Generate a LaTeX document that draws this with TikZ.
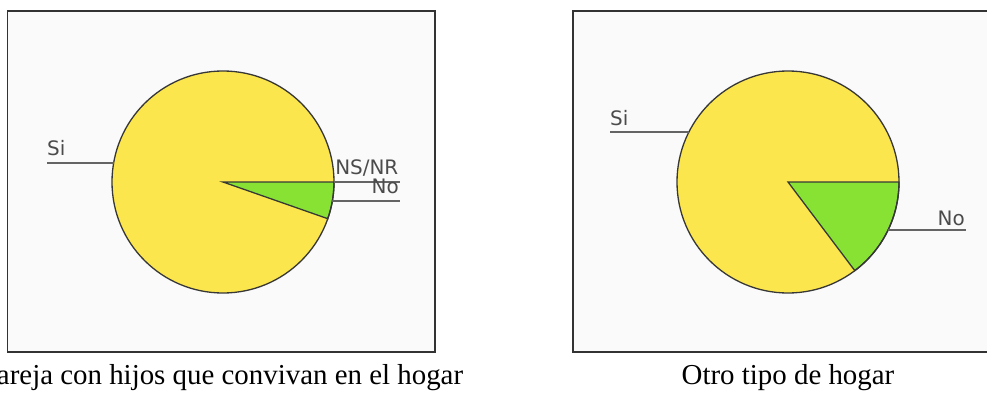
\documentclass[tikz,border=0pt]{standalone}
\usepackage{fontspec}
\setmainfont{Liberation Serif}
\newfontfamily\labelfont{DejaVu Sans}
\definecolor{pieyellow}{RGB}{252,230,77}
\definecolor{piegreen}{RGB}{136,226,52}
\definecolor{framebg}{RGB}{250,250,250}
\definecolor{lblgray}{RGB}{75,75,75}
\definecolor{leadgray}{RGB}{100,100,100}
\definecolor{pieoutline}{RGB}{55,55,55}
\begin{document}
\begin{tikzpicture}[x=1bp,y=1bp,
  frame/.style={draw=black!80, line width=1.5bp, fill=framebg},
  slice/.style={draw=pieoutline, line width=1.3bp},
  leader/.style={draw=leadgray, line width=1.5bp},
  lbl/.style={font=\labelfont\fontsize{20}{23}\selectfont, text=lblgray, inner sep=0pt},
  captiontext/.style={font=\fontsize{29}{32}\selectfont, inner sep=0pt}]
\useasboundingbox (0,0) rectangle (987,392);
% frames
\draw[frame] (7.5,40) rectangle (435,381);
\draw[frame] (573,40) rectangle (1005,381);
% ---------- left pie ----------
\coordinate (cL) at (223,210);
\fill[pieyellow] (cL) circle[radius=111];
\filldraw[slice, fill=piegreen] (cL) -- ++(0:111) arc[start angle=0, end angle=-19.3, radius=111] -- cycle;
\draw[slice] (cL) circle[radius=111];
\path (cL) ++(170.1:111) coordinate (siLedge);
\path (cL) ++(0:111) coordinate (nsLedge);
\path (cL) ++(-9.86:111) coordinate (noLedge);
\coordinate (siLend) at (47,229);
\coordinate (nsLend) at (400,210);
\coordinate (noLend) at (400,191);
\draw[leader] (siLend |- siLedge) -- (siLedge);
\draw[leader] (nsLedge) -- (nsLend |- nsLedge);
\draw[leader] (noLedge) -- (noLend |- noLedge);
\node[lbl, anchor=base west] (siL) at (47,237) {Si};
\node[lbl, anchor=base east] (nsL) at (398.5,218) {NS/NR};
\node[lbl, anchor=base east] (noL) at (399,199) {No};
\node[captiontext, anchor=base] (capL) at (222,8) {Pareja con hijos que convivan en el hogar};
% ---------- right pie ----------
\coordinate (cR) at (788,210);
\fill[pieyellow] (cR) circle[radius=111];
\filldraw[slice, fill=piegreen] (cR) -- ++(0:111) arc[start angle=0, end angle=-53, radius=111] -- cycle;
\draw[slice] (cR) circle[radius=111];
\path (cR) ++(153.2:111) coordinate (siRedge);
\path (cR) ++(-25.6:111) coordinate (noRedge);
\coordinate (siRend) at (610,260);
\coordinate (noRend) at (966,162);
\draw[leader] (siRend |- siRedge) -- (siRedge);
\draw[leader] (noRedge) -- (noRend |- noRedge);
\node[lbl, anchor=base west] (siR) at (610,267) {Si};
\node[lbl, anchor=base east] (noR) at (965,167) {No};
\node[captiontext, anchor=base] (capR) at (788,8) {Otro tipo de hogar};
\end{tikzpicture}
\end{document}
